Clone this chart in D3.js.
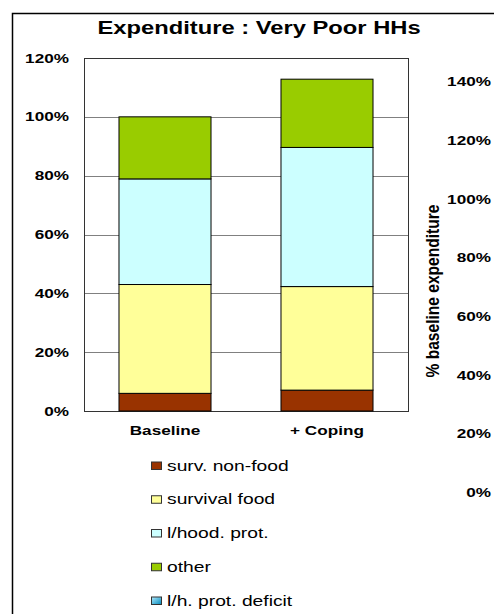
<!DOCTYPE html>
<html>
<head>
<meta charset="utf-8">
<script src="https://cdn.jsdelivr.net/npm/d3@7"></script>
<style>
  html, body { margin: 0; padding: 0; background: #fff; }
  svg { display: block; }
  text { font-family: "Liberation Sans", Arial, sans-serif; fill: #000; }
</style>
</head>
<body>
<svg id="chart" width="494" height="614"></svg>
<script>
// Categories and stacked series (percent of baseline expenditure)
const categories = ["Baseline", "+ Coping"];
const seriesNames = ["surv. non-food", "survival food", "l/hood. prot.", "other"];
const survNonFood = [6.0, 7.1];
const survivalFood = [37.0, 35.2];
const lhoodProt = [35.9, 47.3];
const other = [21.1, 23.2];
const legendNames = ["surv. non-food", "survival food", "l/hood. prot.", "other", "l/h. prot. deficit"];
const leftTicks = [0, 20, 40, 60, 80, 100, 120];
const rightTicks = [0, 20, 40, 60, 80, 100, 120, 140];

const colors = ["#993300", "#FFFF99", "#CCFFFF", "#99CC00", "url(#deficitGrad)"];
const SX = 1.32; // horizontal stretch applied to text

const rows = categories.map((c, i) => ({
  cat: c,
  "surv. non-food": survNonFood[i],
  "survival food": survivalFood[i],
  "l/hood. prot.": lhoodProt[i],
  "other": other[i]
}));

const svg = d3.select("#chart");

const defs = svg.append("defs");
const g = defs.append("linearGradient").attr("id", "deficitGrad")
  .attr("x1", "0").attr("y1", "0").attr("x2", "1").attr("y2", "1");
g.append("stop").attr("offset", "0%").attr("stop-color", "#B3ECFF");
g.append("stop").attr("offset", "100%").attr("stop-color", "#0088BB");

// outer frame (extends past the window on the right and bottom)
svg.append("rect")
  .attr("x", 12.5).attr("y", 13.5)
  .attr("width", 600).attr("height", 700)
  .attr("fill", "none").attr("stroke", "#000").attr("stroke-width", 1.5);

// title
svg.append("text")
  .attr("transform", `translate(259,34) scale(${SX},1)`)
  .attr("text-anchor", "middle")
  .attr("font-size", 18).attr("font-weight", "bold")
  .text("Expenditure : Very Poor HHs");

const plot = { left: 84, right: 408, top: 58, bottom: 411 };

const x = d3.scaleBand().domain(categories)
  .range([plot.left, plot.right])
  .paddingInner(0.432).paddingOuter(0.216);
const y = d3.scaleLinear().domain([0, 120]).range([plot.bottom, plot.top]);

// gridlines
const grid = svg.append("g").attr("transform", `translate(${plot.left},0)`)
  .call(d3.axisLeft(y).tickValues(leftTicks).tickSize(-(plot.right - plot.left)).tickFormat(""));
grid.select(".domain").remove();
grid.selectAll("line").attr("stroke", "#808080").attr("stroke-width", 1).attr("shape-rendering", "crispEdges");

// plot border
svg.append("rect")
  .attr("x", plot.left).attr("y", plot.top)
  .attr("width", plot.right - plot.left).attr("height", plot.bottom - plot.top)
  .attr("fill", "none").attr("stroke", "#333").attr("stroke-width", 1)
  .attr("shape-rendering", "crispEdges");

// stacked bars
const stacked = d3.stack().keys(seriesNames)(rows);
svg.append("g").selectAll("g").data(stacked).join("g")
  .attr("fill", (d, i) => colors[i])
  .selectAll("rect").data(d => d).join("rect")
  .attr("x", d => x(d.data.cat))
  .attr("width", x.bandwidth())
  .attr("y", d => y(d[1]))
  .attr("height", d => y(d[0]) - y(d[1]))
  .attr("stroke", "#000").attr("stroke-width", 1);

// left axis labels
const pad = 15;
const yAxis = svg.append("g").attr("transform", `translate(${plot.left},0)`)
  .call(d3.axisLeft(y).tickValues(leftTicks).tickSize(0).tickFormat(d => d + "%"));
yAxis.select(".domain").remove();
yAxis.selectAll("text")
  .attr("x", -pad / SX)
  .attr("transform", `scale(${SX},1)`)
  .attr("font-size", 13).attr("font-weight", "bold")
  .attr("font-family", "Liberation Sans, Arial, sans-serif");

// category labels
const xAxis = svg.append("g").attr("transform", `translate(0,${plot.bottom})`)
  .call(d3.axisBottom(x).tickSize(0));
xAxis.select(".domain").remove();
xAxis.selectAll("text")
  .attr("y", 19).attr("dy", "0.35em")
  .attr("transform", `scale(${SX},1)`)
  .attr("font-size", 13).attr("font-weight", "bold")
  .attr("font-family", "Liberation Sans, Arial, sans-serif");
xAxis.selectAll(".tick").each(function (d) {
  const cx = x(d) + x.bandwidth() / 2;
  d3.select(this).attr("transform", `translate(${cx},0)`);
  d3.select(this).select("text").attr("x", 0);
});

// secondary axis labels on the right
const y2 = d3.scaleLinear().domain([0, 140]).range([492.5, 81.5]);
const y2Axis = svg.append("g").attr("transform", "translate(491,0)")
  .call(d3.axisLeft(y2).tickValues(rightTicks).tickSize(0).tickPadding(0).tickFormat(d => d + "%"));
y2Axis.select(".domain").remove();
y2Axis.selectAll("text")
  .attr("x", 0)
  .attr("transform", `scale(${SX},1)`)
  .attr("font-size", 13).attr("font-weight", "bold")
  .attr("font-family", "Liberation Sans, Arial, sans-serif");

// secondary axis title
svg.append("text")
  .attr("transform", `translate(439,291) scale(${SX},1) rotate(-90)`)
  .attr("text-anchor", "middle")
  .attr("font-size", 13.5).attr("font-weight", "bold")
  .attr("textLength", 173).attr("lengthAdjust", "spacingAndGlyphs")
  .text("% baseline expenditure");

// legend
const legend = svg.append("g");
const ly = d3.scalePoint().domain(legendNames).range([465.5, 600.5]);
const item = legend.selectAll("g").data(legendNames).join("g")
  .attr("transform", d => `translate(0,${ly(d)})`);
item.append("rect")
  .attr("x", 151.5).attr("y", -3.5)
  .attr("width", 10).attr("height", 7.5)
  .attr("fill", (d, i) => colors[i])
  .attr("stroke", "#333").attr("stroke-width", 1);
item.append("text")
  .attr("transform", `translate(167,0) scale(${SX},1)`)
  .attr("dy", "0.35em")
  .attr("font-size", 14.6)
  .text(d => d);
</script>
</body>
</html>
